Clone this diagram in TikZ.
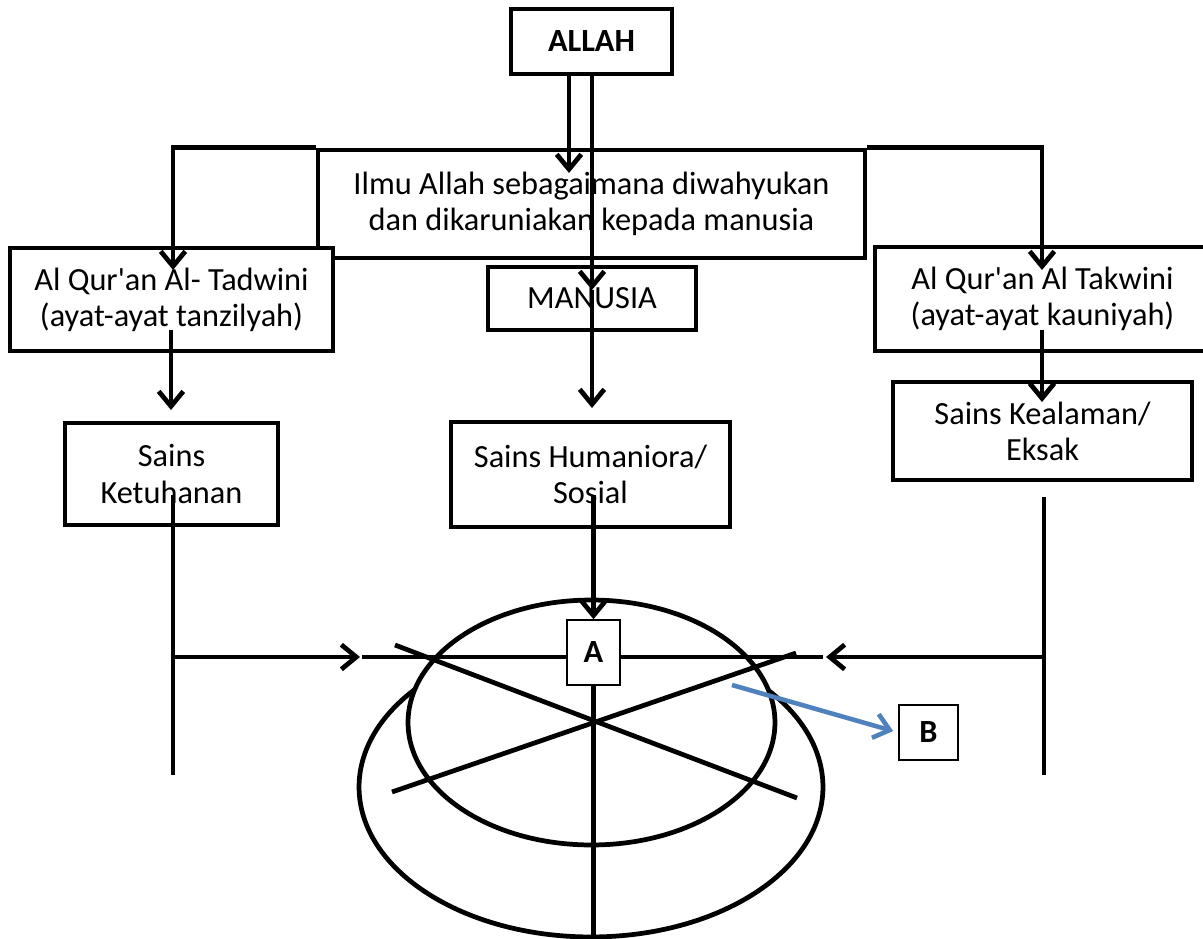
\documentclass[tikz,border=0pt]{standalone}
\usepackage{fontspec}
\setmainfont{Carlito}[Ligatures=TeXOff]
\usetikzlibrary{arrows.meta}

\definecolor{bblue}{RGB}{79,129,189}

\tikzset{
  box/.style={draw, line width=2.7pt, fill=white, align=center, inner sep=0pt,
    font=\fontsize{18.4}{20.5}\selectfont},
  tag/.style={draw, line width=0.9pt, fill=white, inner sep=0pt,
    font=\fontsize{18.4}{20.5}\selectfont\bfseries},
  ln/.style={line width=2.7pt},
  arr/.style={ln, -{Straight Barb[length=8.5pt,width=14pt]}},
  ptr/.style={line width=2.6pt, draw=bblue, -{Straight Barb[length=8.5pt,width=14pt]}}
}

\begin{document}
\begin{tikzpicture}[x=0.02cm, y=-0.02cm]
  \useasboundingbox (0,0) rectangle (1203,939);

  % Top boxes
  \node[box, minimum width=3.22cm, minimum height=1.3cm] (allah) at (591.5,41.5) {\bfseries ALLAH};
  \node[box, minimum width=10.94cm, minimum height=2.16cm] (ilmu) at (591.5,204)
    {Ilmu Allah sebagaimana diwahyukan\\dan dikaruniakan kepada manusia};
  \node[box, minimum width=6.46cm, minimum height=2.06cm] (tadwini) at (171.5,299.5)
    {Al Qur'an Al- Tadwini\\(ayat-ayat tanzilyah)};
  \node[box, minimum width=6.7cm, minimum height=2.08cm] (takwini) at (1042.5,299)
    {Al Qur'an Al Takwini\\(ayat-ayat kauniyah)};
  \node[box, minimum width=4.16cm, minimum height=1.26cm] (manusia) at (592,298.5) {MANUSIA};

  % Sains boxes
  \node[box, minimum width=4.26cm, minimum height=2.04cm] (ketuhanan) at (171.5,474)
    {Sains\\Ketuhanan};
  \node[box, minimum width=5.58cm, minimum height=2.1cm] (humaniora) at (590.5,474.5)
    {Sains Humaniora/\\Sosial};
  \node[box, minimum width=5.98cm, minimum height=1.96cm] (kealaman) at (1042.5,431)
    {Sains Kealaman/\\Eksak};

  % Ends of the connectors
  \coordinate (ilmu-in) at (569,173);
  \coordinate (man-in) at (592,290);
  \coordinate (hum-in) at (592,408);
  \coordinate (hum-out) at (592,495);
  \coordinate (tad-in) at (173,270);
  \coordinate (tak-in) at (1042,270);
  \coordinate (tad-out) at (171,330);
  \coordinate (ket-in) at (171,410);
  \coordinate (tak-out) at (1042,330);
  \coordinate (kea-in) at (1042,402);
  \coordinate (ket-out) at (173,495);
  \coordinate (ket-end) at (173,775);
  \coordinate (kea-out) at (1044,497);
  \coordinate (kea-end) at (1044,775);
  \coordinate (left-in) at (360,657);
  \coordinate (right-in) at (826,657);
  \coordinate (left-end) at (362,657);
  \coordinate (right-end) at (823,657);
  \coordinate (base) at (593.5,937);
  \coordinate (blue-start) at (732,685);

  % Flow from ALLAH
  \draw[arr] (allah.south -| ilmu-in) -- (ilmu-in);
  \draw[arr] (allah.south -| man-in) -- (man-in);
  \draw[arr] (man-in) -- (hum-in);
  \draw[arr] (ilmu.north west) -| (tad-in);
  \draw[arr] (ilmu.north east) -| (tak-in);
  \draw[arr] (tad-out) -- (ket-in);
  \draw[arr] (tak-out) -- (kea-in);

  % Side lines
  \draw[ln] (ket-out) -- (ket-end);
  \draw[ln] (kea-out) -- (kea-end);
  \draw[arr] (ket-out |- left-in) -- (left-in);
  \draw[arr] (kea-out |- right-in) -- (right-in);

  % Ellipses
  \draw[ln] (591,787) ellipse [x radius=4.64cm, y radius=3cm];
  \draw[ln, fill=white] (591.5,722.5) ellipse [x radius=3.67cm, y radius=2.45cm];

  % Crossing lines
  \draw[ln] (395,645) -- (797,798);
  \draw[ln] (392,792) -- (796,653);

  % A and B
  \node[tag, minimum width=1.06cm, minimum height=1.3cm] (A) at (593.5,652.5) {A};
  \node[tag, minimum width=1.18cm, minimum height=1.1cm] (B) at (928.5,732.5) {B};

  \draw[arr] (A.north |- hum-out) -- (A.north);
  \draw[ln] (left-end) -- (A.west |- left-end);
  \draw[ln] (A.east |- right-end) -- (right-end);
  \draw[ln] (A.south) -- (base);
  \draw[ptr, shorten >=3pt] (blue-start) -- (B.west);

\end{tikzpicture}
\end{document}
